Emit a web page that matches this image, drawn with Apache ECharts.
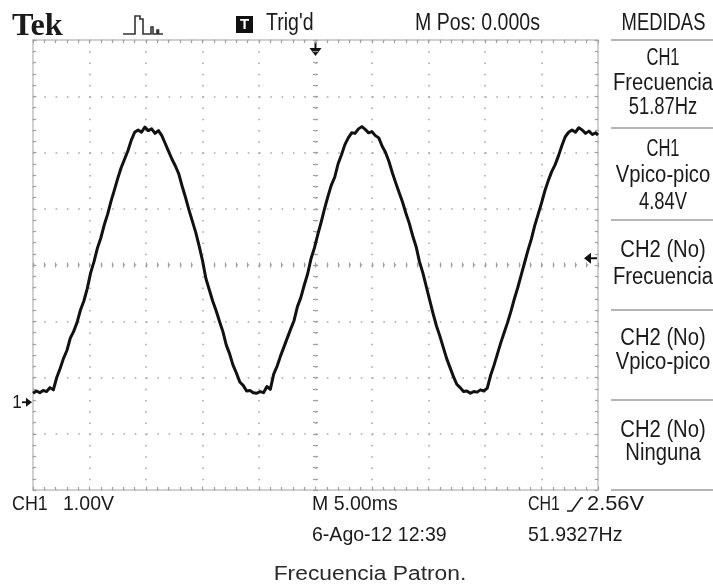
<!DOCTYPE html>
<html><head><meta charset="utf-8">
<script src="https://cdn.jsdelivr.net/npm/echarts@6/dist/echarts.min.js"></script>
<style>html,body{margin:0;padding:0;background:#fff;}#c{width:713px;height:585px;}</style>
</head><body><div id="c"></div>
<script>
const timeMs = [-25.0,-24.7,-24.4,-24.1,-23.8,-23.5,-23.2,-22.9,-22.6,-22.3,-22.0,-21.7,-21.4,-21.1,-20.8,-20.5,-20.2,-19.9,-19.6,-19.3,-19.0,-18.7,-18.4,-18.1,-17.8,-17.5,-17.2,-16.9,-16.6,-16.3,-16.0,-15.7,-15.4,-15.1,-14.8,-14.5,-14.2,-13.9,-13.6,-13.3,-13.0,-12.7,-12.4,-12.1,-11.8,-11.5,-11.2,-10.9,-10.6,-10.3,-10.0,-9.7,-9.4,-9.1,-8.8,-8.5,-8.2,-7.9,-7.6,-7.3,-7.0,-6.7,-6.4,-6.1,-5.8,-5.5,-5.2,-4.9,-4.6,-4.3,-4.0,-3.7,-3.4,-3.1,-2.8,-2.5,-2.2,-1.9,-1.6,-1.3,-1.0,-0.7,-0.4,-0.1,0.2,0.5,0.8,1.1,1.4,1.7,2.0,2.3,2.6,2.9,3.2,3.5,3.8,4.1,4.4,4.7,5.0,5.3,5.6,5.9,6.2,6.5,6.8,7.1,7.4,7.7,8.0,8.3,8.6,8.9,9.2,9.5,9.8,10.1,10.4,10.7,11.0,11.3,11.6,11.9,12.2,12.5,12.8,13.1,13.4,13.7,14.0,14.3,14.6,14.9,15.2,15.5,15.8,16.1,16.4,16.7,17.0,17.3,17.6,17.9,18.2,18.5,18.8,19.1,19.4,19.7,20.0,20.3,20.6,20.9,21.2,21.5,21.8,22.1,22.4,22.7,23.0,23.3,23.6,23.9,24.2,24.5,24.8,25.0];
const ch1Volts = [0.16,0.20,0.17,0.21,0.19,0.26,0.22,0.44,0.60,0.78,0.92,1.14,1.26,1.42,1.64,1.80,2.02,2.30,2.50,2.74,2.92,3.15,3.34,3.57,3.77,3.98,4.17,4.32,4.47,4.66,4.80,4.84,4.80,4.89,4.83,4.86,4.78,4.83,4.74,4.60,4.46,4.32,4.20,4.06,3.84,3.64,3.42,3.22,3.02,2.78,2.52,2.20,2.00,1.80,1.63,1.44,1.26,1.02,0.86,0.66,0.52,0.36,0.30,0.20,0.21,0.17,0.16,0.19,0.17,0.28,0.23,0.50,0.64,0.82,0.98,1.14,1.30,1.45,1.70,1.86,2.08,2.28,2.55,2.74,2.98,3.20,3.44,3.66,3.86,4.00,4.24,4.40,4.58,4.70,4.79,4.78,4.86,4.90,4.85,4.79,4.81,4.74,4.70,4.55,4.44,4.28,4.08,3.90,3.73,3.56,3.36,3.18,2.96,2.77,2.50,2.30,2.06,1.82,1.58,1.36,1.18,0.98,0.78,0.62,0.46,0.32,0.26,0.19,0.20,0.16,0.19,0.18,0.22,0.20,0.25,0.48,0.66,0.86,1.06,1.24,1.42,1.62,1.84,2.04,2.26,2.48,2.70,2.90,3.14,3.34,3.54,3.76,3.94,4.10,4.22,4.38,4.56,4.72,4.80,4.84,4.80,4.88,4.84,4.78,4.82,4.76,4.79,4.75];
const timeRangeMs = [-25, 25];      // 10 div x 5.00 ms
const timeDivMs = 5;
const voltRange = [-1.56, 6.44];    // 8 div x 1.00 V, ground marker offset
const divRange = [-4, 4];
const triggerTimeMs = 0;
const triggerLevelV = 2.56;
const groundV = 0;
const headerTexts = ['Tek', "Trig'd", 'M Pos: 0.000s', 'MEDIDAS'];
const panelBlocks = [
  ['CH1', 'Frecuencia', '51.87Hz'],
  ['CH1', 'Vpico-pico', '4.84V'],
  ['CH2 (No)', 'Frecuencia'],
  ['CH2 (No)', 'Vpico-pico'],
  ['CH2 (No)', 'Ninguna']
];
const footerTexts = ['CH1', '1.00V', 'M 5.00ms', '6-Ago-12 12:39', 'CH1', '2.56V', '51.9327Hz'];
const caption = 'Frecuencia Patron.';

(function () {
// ---- chart ----
const GRID = {left: 33, top: 40, width: 565, height: 450};
const dotCol = '#a8a8a8', borderCol = '#c2c2c2', tickCol = '#a0a0a0';
const chart = echarts.init(document.getElementById('c'), null, {renderer: 'canvas'});

function borderAxis(extra) {
  return Object.assign({
    type: 'value', gridIndex: 0, axisLabel: {show: false},
    axisLine: {show: true, onZero: false, lineStyle: {color: borderCol, width: 1.5}},
    axisTick: {show: true, inside: true, length: 3.5, lineStyle: {color: tickCol, width: 1.2}},
    minorTick: {show: true, splitNumber: 5, length: 3, lineStyle: {color: tickCol, width: 1.2}},
    splitLine: {show: false}
  }, extra);
}
function centerAxis(extra) {
  return Object.assign({
    type: 'value', gridIndex: 0, axisLabel: {show: false},
    axisLine: {show: false, onZero: true, onZeroAxisIndex: 0},
    axisTick: {show: true, length: 2.5, lineStyle: {color: tickCol, width: 1.2}},
    minorTick: {show: true, splitNumber: 5, length: 2.5, lineStyle: {color: tickCol, width: 1.2}},
    splitLine: {show: false}
  }, extra);
}
const xr = {min: timeRangeMs[0], max: timeRangeMs[1], interval: timeDivMs};
const dr = {min: divRange[0], max: divRange[1], interval: 1};
const inTick = {axisTick: {show: true, inside: true, length: 2.5, lineStyle: {color: tickCol, width: 1.2}},
  minorTick: {show: true, splitNumber: 5, length: 2.5, lineStyle: {color: tickCol, width: 1.2}}};

const option = {
  animation: false,
  backgroundColor: '#ffffff',
  grid: Object.assign({containLabel: false}, GRID),
  xAxis: [
    borderAxis(Object.assign({position: 'bottom',
      splitLine: {show: true, lineStyle: {color: dotCol, width: 1.6, type: [1.6, 9.65]}}}, xr)),
    borderAxis(Object.assign({position: 'top'}, xr)),
    centerAxis(Object.assign({position: 'bottom'}, inTick, xr)),
    centerAxis(Object.assign({position: 'bottom'}, xr))
  ],
  yAxis: [
    borderAxis(Object.assign({position: 'left',
      splitLine: {show: true, lineStyle: {color: dotCol, width: 1.6, type: [1.6, 9.7]}}}, dr)),
    {type: 'value', show: false, min: voltRange[0], max: voltRange[1], axisLine: {onZero: false}, splitLine: {show: false}},
    borderAxis(Object.assign({position: 'right'}, dr)),
    centerAxis(Object.assign({position: 'left'}, inTick, dr)),
    centerAxis(Object.assign({position: 'left'}, dr))
  ],
  series: [{
    type: 'line', name: 'CH1', xAxisIndex: 0, yAxisIndex: 1,
    data: timeMs.map((t, i) => [t, ch1Volts[i]]),
    showSymbol: false, symbol: 'none', smooth: false,
    lineStyle: {color: '#111111', width: 3, join: 'round'},
    z: 5
  }]
};
chart.setOption(option);

// ---- screen texts & markers ----
const SANS = '"Liberation Sans", Arial, sans-serif';
function txt(text, x, y, size, sx, align, font, fill) {
  return {
    type: 'text', x: x, y: y, scaleX: sx, silent: true, z: 10,
    style: {text: text, fill: fill || '#1a1a1a', font: font || (size + 'px ' + SANS),
      align: align, textAlign: align, verticalAlign: 'middle', textVerticalAlign: 'middle'}
  };
}
const g = [];
// header
g.push(txt(headerTexts[0], 12, 26.5, 31, 1.04, 'left', 'bold 31px "Liberation Serif", serif'));
g.push({type: 'polyline', silent: true, shape: {points: [[123,34],[135,34],[135,16],[140,16],[140,19],[143,19],[143,34],[151,34],[151,27],[153,27],[153,34],[157,34],[157,30],[158.5,30],[158.5,34],[163,34]]},
  style: {stroke: '#333', lineWidth: 1.6, fill: null}});
g.push({type: 'rect', silent: true, shape: {x: 236, y: 16, width: 17, height: 17}, style: {fill: '#111'}});
g.push(txt('T', 244.5, 24.8, 15, 1, 'center', 'bold 15px ' + SANS, '#fff'));
g.push(txt(headerTexts[1], 266, 23.5, 23, 0.85, 'left'));
g.push(txt(headerTexts[2], 477.5, 23.5, 23, 0.85, 'center'));
g.push(txt(headerTexts[3], 663.5, 23.5, 23, 0.8, 'center'));
// measurement panel
const sepY = [40, 128, 220, 310, 400, 490];
sepY.forEach(y => g.push({type: 'line', silent: true, shape: {x1: 611, y1: y, x2: 713, y2: y}, style: {stroke: '#9c9c9c', lineWidth: 1.4}}));
const panelY = [[58.5, 84, 107.5], [150, 176, 202.5], [251, 278], [339, 363], [430.5, 454]];
panelBlocks.forEach((blk, bi) => blk.forEach((s, li) => {
  const sx = (s === 'CH1') ? 0.72 : (/Hz$|V$/.test(s) ? 0.8 : 0.88);
  g.push(txt(s, 663, panelY[bi][li], 23, sx, 'center'));
}));
// footer
g.push(txt(footerTexts[0], 12, 504.5, 21, 0.85, 'left'));
g.push(txt(footerTexts[1], 63, 504.5, 21, 0.93, 'left'));
g.push(txt(footerTexts[2], 312, 504.5, 21, 0.93, 'left'));
g.push(txt(footerTexts[3], 312, 535.5, 21, 0.93, 'left'));
g.push(txt(footerTexts[4], 528, 504.5, 21, 0.76, 'left'));
g.push({type: 'polyline', silent: true, shape: {points: [[567,511],[572,511],[581,498],[583,498]]}, style: {stroke: '#1a1a1a', lineWidth: 1.6, fill: null}});
g.push(txt(footerTexts[5], 587, 504.5, 21, 1.04, 'left'));
g.push(txt(footerTexts[6], 528, 535.5, 21, 0.93, 'left'));
g.push(txt(caption, 370, 574.5, 20, 1.14, 'center', '20px ' + SANS, '#2a2a2a'));

// data-driven markers
const trigX = chart.convertToPixel({xAxisIndex: 0}, triggerTimeMs);
const trigY = chart.convertToPixel({yAxisIndex: 1}, triggerLevelV);
const gndY = chart.convertToPixel({yAxisIndex: 1}, groundV);
const plotTop = GRID.top, plotRight = GRID.left + GRID.width;
g.push({type: 'line', silent: true, shape: {x1: trigX, y1: plotTop + 2, x2: trigX, y2: plotTop + 9}, style: {stroke: '#111', lineWidth: 2}});
g.push({type: 'polygon', silent: true, shape: {points: [[trigX - 6, plotTop + 8], [trigX + 6, plotTop + 8], [trigX, plotTop + 16]]}, style: {fill: '#111'}});
g.push({type: 'line', silent: true, shape: {x1: plotRight - 1, y1: trigY, x2: plotRight - 8, y2: trigY}, style: {stroke: '#111', lineWidth: 2}});
g.push({type: 'polygon', silent: true, shape: {points: [[plotRight - 7, trigY - 5.5], [plotRight - 7, trigY + 5.5], [plotRight - 14, trigY]]}, style: {fill: '#111'}});
g.push(txt('1', 17, gndY + 1, 19, 0.9, 'center'));
g.push({type: 'line', silent: true, shape: {x1: 22, y1: gndY, x2: 27, y2: gndY}, style: {stroke: '#111', lineWidth: 1.8}});
g.push({type: 'polygon', silent: true, shape: {points: [[26, gndY - 4.5], [26, gndY + 4.5], [32, gndY]]}, style: {fill: '#111'}});

chart.setOption({graphic: {elements: g}});
})();
</script></body></html>
